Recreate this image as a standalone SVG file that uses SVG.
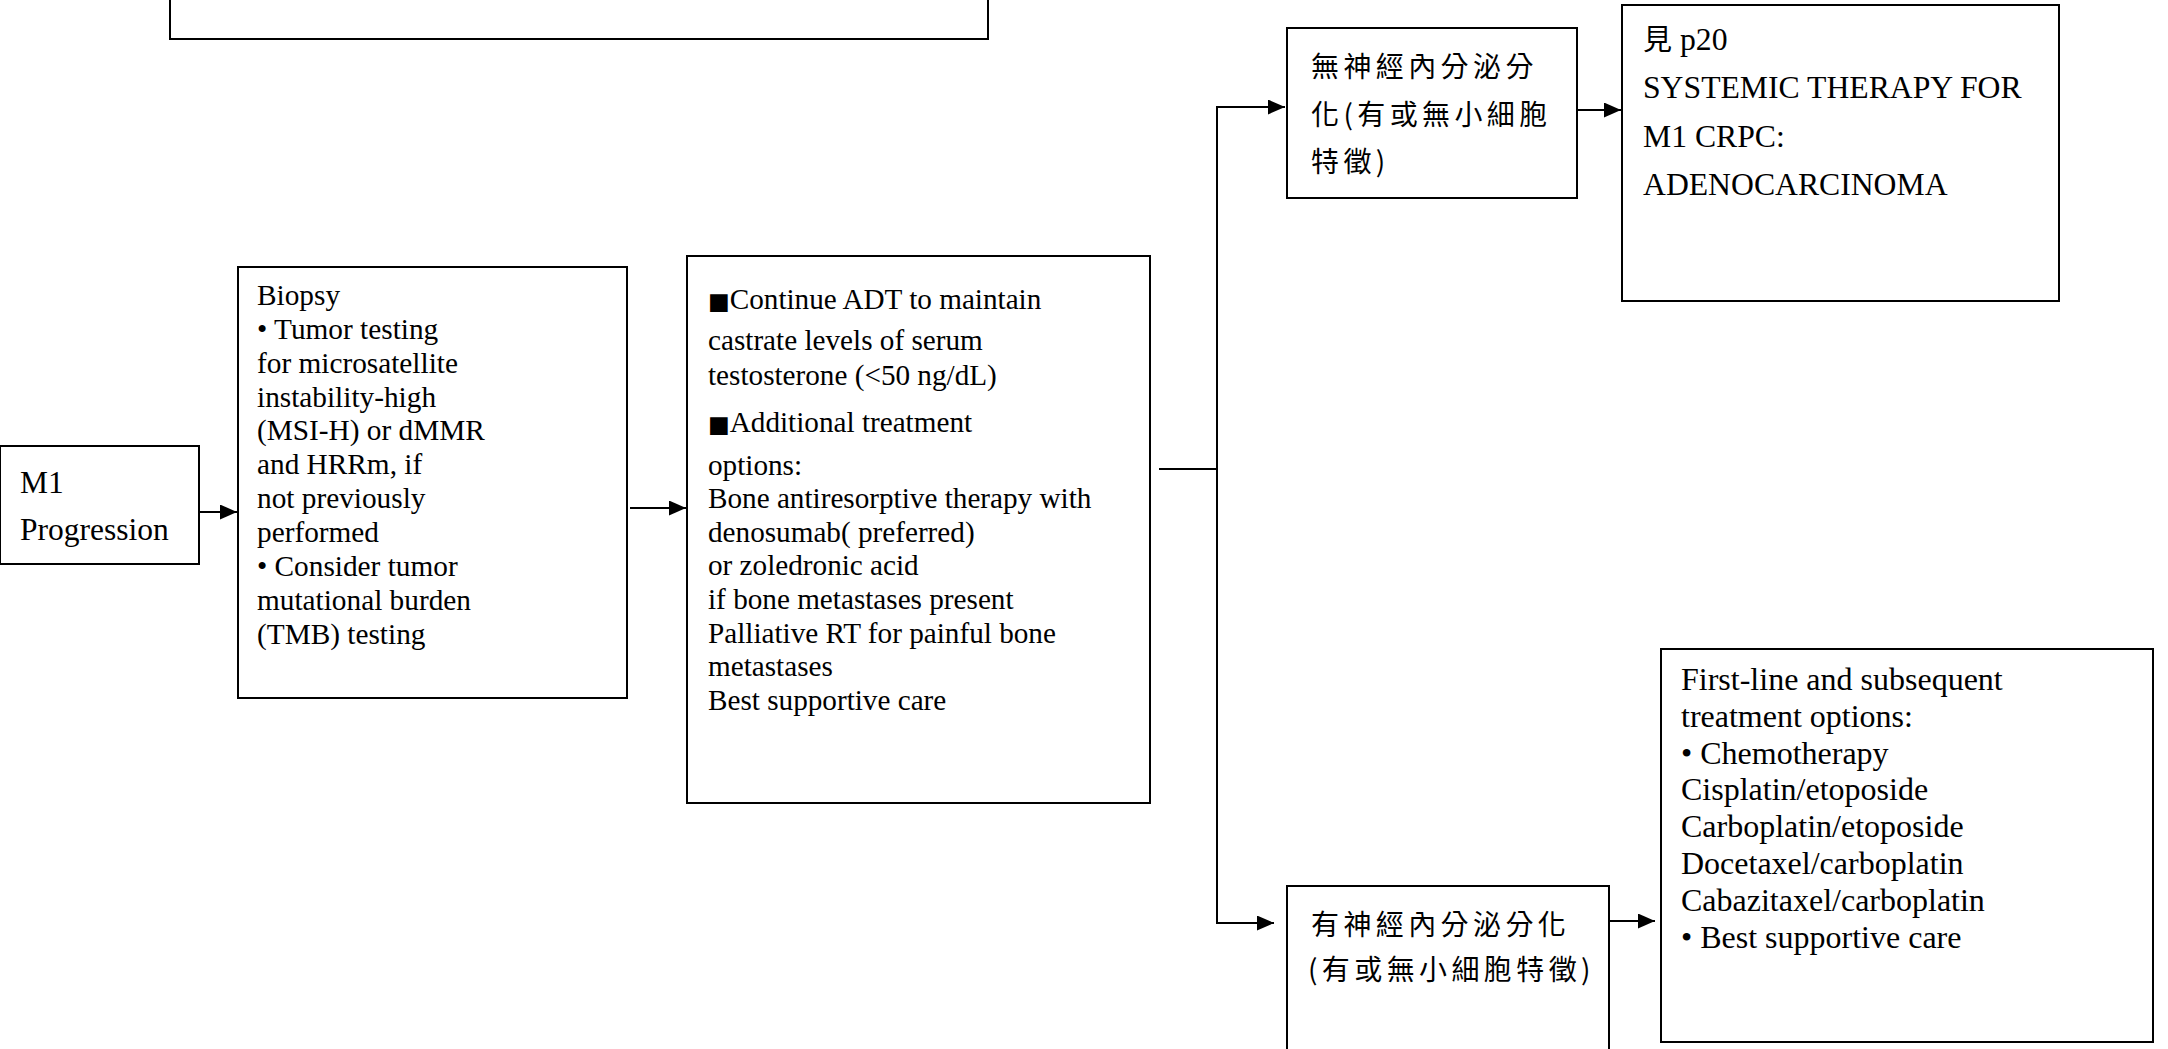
<svg xmlns="http://www.w3.org/2000/svg" width="2168" height="1049" viewBox="0 0 2168 1049">
<style>
.box{fill:#fff;stroke:#000;stroke-width:2}
.t{font-family:"Liberation Serif","Times New Roman",serif;fill:#000}
.cjk{font-family:"Noto Sans CJK TC","Noto Sans CJK SC",sans-serif;fill:#000;font-size:28px;letter-spacing:4.4px}
.sq{font-family:"DejaVu Sans",sans-serif;font-size:23px}
.c{fill:none;stroke:#000;stroke-width:2}
</style>
<defs>
<marker id="ah" viewBox="0 0 17 15" refX="17" refY="7.5" markerWidth="17" markerHeight="15" markerUnits="userSpaceOnUse" orient="auto">
<path d="M0,0 L17,7.5 L0,15 z" fill="#000"/>
</marker>
</defs>
<rect width="2168" height="1049" fill="#fff"/>
<g id="top-box"><rect class="box" x="170" y="-10" width="818" height="49"/></g>
<g id="m1">
<rect class="box" x="0" y="446" width="199" height="118"/>
<text class="t" font-size="31.5" x="20" y="493">M1</text>
<text class="t" font-size="31.5" x="20" y="540">Progression</text>
</g>
<g id="biopsy">
<rect class="box" x="238" y="267" width="389" height="431"/>
<text class="t" font-size="29.3">
<tspan x="257" y="305">Biopsy</tspan>
<tspan x="257" y="339">• Tumor testing</tspan>
<tspan x="257" y="373">for microsatellite</tspan>
<tspan x="257" y="407">instability-high</tspan>
<tspan x="257" y="440">(MSI-H) or dMMR</tspan>
<tspan x="257" y="474">and HRRm, if</tspan>
<tspan x="257" y="508">not previously</tspan>
<tspan x="257" y="542">performed</tspan>
<tspan x="257" y="576">• Consider tumor</tspan>
<tspan x="257" y="610">mutational burden</tspan>
<tspan x="257" y="644">(TMB) testing</tspan>
</text>
</g>
<g id="treatment">
<rect class="box" x="687" y="256" width="463" height="547"/>
<text class="t" font-size="29.2">
<tspan x="708" y="309"><tspan class="sq">■</tspan>Continue ADT to maintain</tspan>
<tspan x="708" y="350">castrate levels of serum</tspan>
<tspan x="708" y="385">testosterone (&lt;50 ng/dL)</tspan>
<tspan x="708" y="432"><tspan class="sq">■</tspan>Additional treatment</tspan>
<tspan x="708" y="475">options:</tspan>
<tspan x="708" y="508">Bone antiresorptive therapy with</tspan>
<tspan x="708" y="542">denosumab( preferred)</tspan>
<tspan x="708" y="575">or zoledronic acid</tspan>
<tspan x="708" y="609">if bone metastases present</tspan>
<tspan x="708" y="643">Palliative RT for painful bone</tspan>
<tspan x="708" y="676">metastases</tspan>
<tspan x="708" y="710">Best supportive care</tspan>
</text>
</g>
<g id="non-ne">
<rect class="box" x="1287" y="28" width="290" height="170"/>
<text class="cjk"><tspan x="1311" y="77">無神經內分泌分</tspan><tspan x="1311" y="125">化(有或無小細胞</tspan><tspan x="1311" y="172">特徵)</tspan></text>
</g>
<g id="adeno">
<rect class="box" x="1622" y="5" width="437" height="296"/>
<text class="t" font-size="31.7"><tspan x="1643" y="50"><tspan font-family="Noto Sans CJK TC,sans-serif" font-size="29">見</tspan> p20</tspan><tspan x="1643" y="98">SYSTEMIC THERAPY FOR</tspan><tspan x="1643" y="147">M1 CRPC:</tspan><tspan x="1643" y="195">ADENOCARCINOMA</tspan></text>
</g>
<g id="ne">
<rect class="box" x="1287" y="886" width="322" height="180"/>
<text class="cjk"><tspan x="1311" y="935">有神經內分泌分化</tspan><tspan x="1308" y="980">(有或無小細胞特徵)</tspan></text>
</g>
<g id="ne-tx">
<rect class="box" x="1661" y="649" width="492" height="393"/>
<text class="t" font-size="32">
<tspan x="1681" y="690">First-line and subsequent</tspan>
<tspan x="1681" y="727">treatment options:</tspan>
<tspan x="1681" y="764">• Chemotherapy</tspan>
<tspan x="1681" y="800">Cisplatin/etoposide</tspan>
<tspan x="1681" y="837">Carboplatin/etoposide</tspan>
<tspan x="1681" y="874">Docetaxel/carboplatin</tspan>
<tspan x="1681" y="911">Cabazitaxel/carboplatin</tspan>
<tspan x="1681" y="948">• Best supportive care</tspan>
</text>
</g>
<g id="connectors">
<path class="c" d="M199,512 H237" marker-end="url(#ah)"/>
<path class="c" d="M630,508 H686" marker-end="url(#ah)"/>
<path class="c" d="M1159,469 H1217"/>
<path class="c" d="M1217,106 V924"/>
<path class="c" d="M1216,107 H1285" marker-end="url(#ah)"/>
<path class="c" d="M1216,923 H1274" marker-end="url(#ah)"/>
<path class="c" d="M1577,110 H1621" marker-end="url(#ah)"/>
<path class="c" d="M1609,921 H1655" marker-end="url(#ah)"/>
</g>
</svg>
